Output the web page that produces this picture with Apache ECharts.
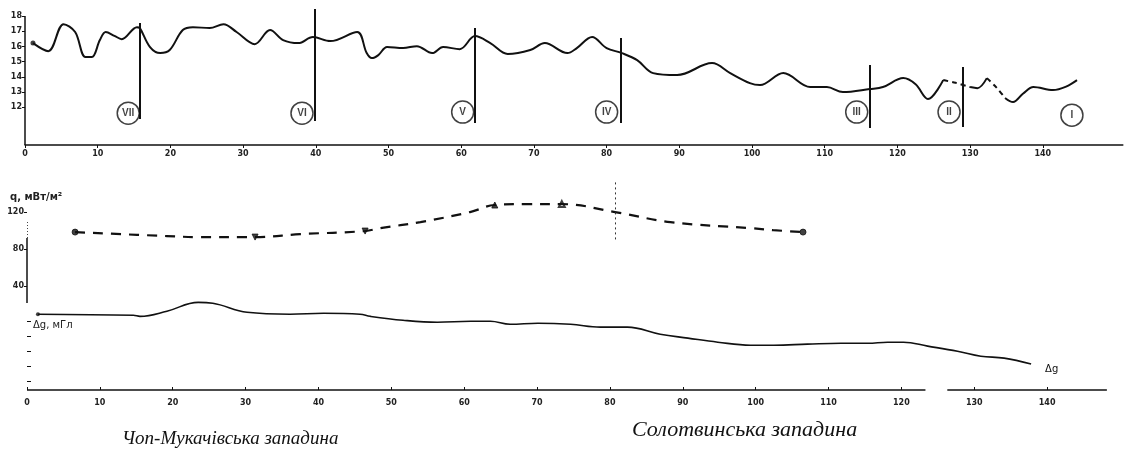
<!DOCTYPE html>
<html><head><meta charset="utf-8">
<script src="https://cdn.jsdelivr.net/npm/echarts@6/dist/echarts.min.js"></script>
<style>html,body{margin:0;padding:0;background:#fff}#c{width:1126px;height:452px}</style>
</head><body><div id="c"></div>
<script>
// ---- data ----
const xTickValues = [0,10,20,30,40,50,60,70,80,90,100,110,120,130,140];
const topYTickValues = [12,13,14,15,16,17,18];
const qTickValues = [40,80,120];
const gTickValues = [0,-10,-20,-30,-40];

// top profile (km, value)
const profX = [1.1,3.2,5.3,6.9,8.3,9.2,10.3,11.1,12.3,13.3,15.4,15.8,17.2,18.6,19.9,21.7,23.1,25.4,27.3,29.1,31.6,33.7,35.5,37.6,39.6,42,45.7,47,47.7,48.6,49.8,52,53.9,56,57.5,59.8,61.9,64,66.4,69.5,71.5,74.6,75.9,78,80,82.1,84.2,86.4,89.7,94.5,97,99.7,101.1,104.3,108,110.3,112.5,116.2,118,120.8,122.5,124.2,126.3,128,130,131,132.3,133.6,134.8,135.9,137.3,138.7,141.4,143.2,144.7];
const profY = [16.22,15.69,17.47,16.95,15.3,15.3,16.42,16.95,16.7,16.48,17.27,17.21,15.96,15.56,15.76,17.08,17.27,17.21,17.47,16.95,16.15,17.08,16.42,16.22,16.62,16.35,16.95,15.56,15.23,15.43,15.96,15.89,16.02,15.56,15.96,15.82,16.68,16.22,15.5,15.76,16.22,15.56,15.89,16.62,15.89,15.56,15.1,14.24,14.11,14.9,14.24,13.58,13.45,14.24,13.32,13.32,12.99,13.19,13.32,13.91,13.5,12.53,13.78,13.6,13.32,13.25,13.91,13.3,12.6,12.33,12.9,13.32,13.12,13.35,13.78];
// x of points where a dashed segment starts
const dashedFrom = [126.3,128,132.3,133.6];

// zone boundaries (top panel)
const zoneX = [15.8,39.9,61.9,82.0,116.2,129.0];
const zoneTop = [17.54,18.46,17.21,16.55,14.77,14.64];
const zoneBottom = [11.21,11.08,10.95,10.95,10.62,10.68];

// zone labels
const zoneNames = ['VII','VI','V','IV','III','II','I'];
const zoneLabelX = [14.2,38.1,60.2,80.0,114.4,127.1,144.0];
const zoneLabelY = [11.6,11.6,11.67,11.67,11.67,11.67,11.47];

// heat flow q (mW/m2)
const qX = [6.6,19.2,23.7,31.3,37.5,46.4,48.5,54,60.8,64.2,68.6,73.4,80.7,88.3,99.2,102.4,106.5];
const qY = [98.4,94.1,93,93,96.2,99.5,102.7,109.2,120,127.6,128.6,128.6,120,109.2,102.7,100.5,98.4];
const qMarkX = [6.6,31.3,46.4,64.2,73.4,106.5];
const qMarkY = [98.4,93,99.5,127.6,128.6,98.4];
const qMarkType = ['dot','down','down','up','upEmpty','dot'];

// gravity anomaly Δg (mGal)
const gX = [1.5,14.6,15.5,19.2,23.5,25.5,30.2,36.1,40.7,45.7,47.1,51.6,56.3,60.9,63.6,66.3,70.1,74.6,78.7,82.4,86.9,90.7,94.8,99.3,102.5,107.1,111.7,115.4,118.1,120.3,123.6,127.7,130.9,134.1,137.8];
const gY = [4.4,3.7,3.0,6.4,12.3,11.7,5.7,4.4,5.0,4.4,3.0,0.4,-0.9,-0.3,-0.3,-2.3,-1.6,-2.3,-4.2,-4.2,-8.9,-11.5,-14.2,-16.2,-16.2,-15.5,-14.9,-14.9,-14.2,-14.2,-16.8,-20.2,-23.5,-24.8,-28.7];

// ---- build ----
const black = '#111';
const axisFont = {fontSize: 8, fontWeight: 'bold', color: '#222', fontFamily: 'DejaVu Sans'};

const profSeries = [];
let cur = null, curStyle = null;
for (let i = 0; i < profX.length - 1; i++) {
  const st = dashedFrom.indexOf(profX[i]) >= 0 ? 'dashed' : 'solid';
  if (st !== curStyle) {
    cur = [[profX[i], profY[i]]];
    curStyle = st;
    profSeries.push({type: 'line', xAxisIndex: 0, yAxisIndex: 0, data: cur, smooth: 0.35, symbol: 'none',
      lineStyle: {color: black, width: 2, type: st === 'dashed' ? [5, 4] : 'solid'}, silent: true});
  }
  cur.push([profX[i + 1], profY[i + 1]]);
}

const zoneLines = zoneX.map((x, i) => [{coord: [x, zoneTop[i]]}, {coord: [x, zoneBottom[i]]}]);
const markSym = {dot: 'circle', down: 'triangle', up: 'triangle', upEmpty: 'emptyTriangle'};

const option = {
  animation: false,
  grid: [
    {left: 25, right: 3.2, top: 7, bottom: 307},
    {left: 27, right: 6, top: 175, bottom: 62}
  ],
  xAxis: [
    {gridIndex: 0, type: 'value', min: 0, max: 151,
      axisLine: {onZero: false, lineStyle: {color: black, width: 1.5}},
      axisTick: {customValues: xTickValues, length: 3, lineStyle: {color: black}},
      axisLabel: Object.assign({customValues: xTickValues, margin: 5}, axisFont),
      splitLine: {show: false}},
    {gridIndex: 1, type: 'value', min: 0, max: 150,
      axisLine: {show: false, onZero: false},
      axisTick: {customValues: xTickValues, length: 3, inside: true, lineStyle: {color: black}},
      axisLabel: Object.assign({customValues: xTickValues, margin: 9}, axisFont),
      splitLine: {show: false}}
  ],
  yAxis: [
    {gridIndex: 0, type: 'value', min: 9.5, max: 18.6,
      axisLine: {show: false, onZero: false},
      axisTick: {show: true, customValues: topYTickValues, length: 3, lineStyle: {color: black}},
      axisLabel: Object.assign({customValues: topYTickValues, margin: 3}, axisFont),
      splitLine: {show: false}},
    {gridIndex: 1, type: 'value', min: -72, max: 160, position: 'left',
      axisLine: {show: false, onZero: false},
      axisTick: {show: true, customValues: qTickValues, length: 3, lineStyle: {color: black}},
      axisLabel: Object.assign({customValues: qTickValues, margin: 3}, axisFont),
      splitLine: {show: false}},
    {gridIndex: 1, type: 'value', min: -46, max: 97, position: 'left', offset: 0,
      axisLine: {show: false, onZero: false},
      axisTick: {show: true, customValues: gTickValues, length: 4, inside: true, lineStyle: {color: black}},
      axisLabel: {show: false},
      splitLine: {show: false}}
  ],
  series: [
    ...profSeries,
    {type: 'scatter', xAxisIndex: 0, yAxisIndex: 0, data: [[profX[0], profY[0]]], symbolSize: 5,
      itemStyle: {color: black}, silent: true},
    {type: 'scatter', xAxisIndex: 0, yAxisIndex: 0,
      data: zoneNames.map((n, i) => ({value: [zoneLabelX[i], zoneLabelY[i]], name: n})),
      symbol: 'circle', symbolSize: 22,
      itemStyle: {color: '#fff', borderColor: black, borderWidth: 1.5},
      label: {show: true, position: 'inside', formatter: p => p.name, fontSize: 10, fontWeight: 'bold',
        color: black, fontFamily: 'Liberation Sans'},
      silent: true,
      markLine: {silent: true, symbol: 'none', label: {show: false},
        lineStyle: {color: black, width: 2, type: 'solid'},
        data: [
          ...zoneLines,
          [{coord: [0, 9.5], lineStyle: {width: 1.5}}, {coord: [0, 18]}]
        ]}},
    {type: 'line', xAxisIndex: 1, yAxisIndex: 1, data: qX.map((x, i) => [x, qY[i]]), smooth: 0.4,
      symbol: 'none', lineStyle: {color: black, width: 2.2, type: [10, 8]}, silent: true,
      markLine: {silent: true, symbol: 'none', label: {show: false},
        data: [
          [{coord: [80.7, 152], lineStyle: {type: [2, 3], width: 1, color: '#333'}}, {coord: [80.7, 89.7]}],
          [{coord: [0, 22], lineStyle: {type: 'solid', width: 1.5, color: black}}, {coord: [0, 92]}],
          [{coord: [0, 92], lineStyle: {type: [1, 2], width: 1, color: '#444'}}, {coord: [0, 110]}],
          [{coord: [0, -72], lineStyle: {type: 'solid', width: 1.5, color: black}}, {coord: [123.3, -72]}],
          [{coord: [126.3, -72], lineStyle: {type: 'solid', width: 1.5, color: black}}, {coord: [148.2, -72]}]
        ]}},
    {type: 'scatter', xAxisIndex: 1, yAxisIndex: 1,
      data: qMarkX.map((x, i) => ({value: [x, qMarkY[i]],
        symbol: markSym[qMarkType[i]], symbolRotate: qMarkType[i] === 'down' ? 180 : 0})),
      symbolSize: 6, itemStyle: {color: black, borderColor: black, borderWidth: 1}, silent: true},
    {type: 'line', xAxisIndex: 1, yAxisIndex: 2, data: gX.map((x, i) => [x, gY[i]]), smooth: 0.4,
      symbol: 'none', lineStyle: {color: black, width: 1.6}, silent: true,
      endLabel: {show: true, formatter: 'Δg', fontSize: 10, color: black, offset: [6, 5], fontFamily: 'DejaVu Sans'}},
    {type: 'scatter', xAxisIndex: 1, yAxisIndex: 2, data: [[gX[0], gY[0]]], symbolSize: 4,
      itemStyle: {color: black}, silent: true}
  ],
  graphic: [
    {type: 'text', left: 10, top: 192, style: {text: 'q, мВт/м²', fontSize: 10, fontWeight: 'bold', fill: '#222', fontFamily: 'DejaVu Sans'}},
    {type: 'text', left: 33, top: 320, style: {text: 'Δg, мГл', fontSize: 10, fill: '#222', fontFamily: 'DejaVu Sans'}},
    {type: 'text', left: 122, top: 429, style: {text: 'Чоп-Мукачівська западина', fontSize: 19, fontStyle: 'italic', fill: '#111', fontFamily: 'Liberation Serif'}},
    {type: 'text', left: 632, top: 419, style: {text: 'Солотвинська западина', fontSize: 22, fontStyle: 'italic', fill: '#111', fontFamily: 'Liberation Serif'}}
  ]
};
const chart = echarts.init(document.getElementById('c'), null, {renderer: 'canvas'});
chart.setOption(option);
</script></body></html>
